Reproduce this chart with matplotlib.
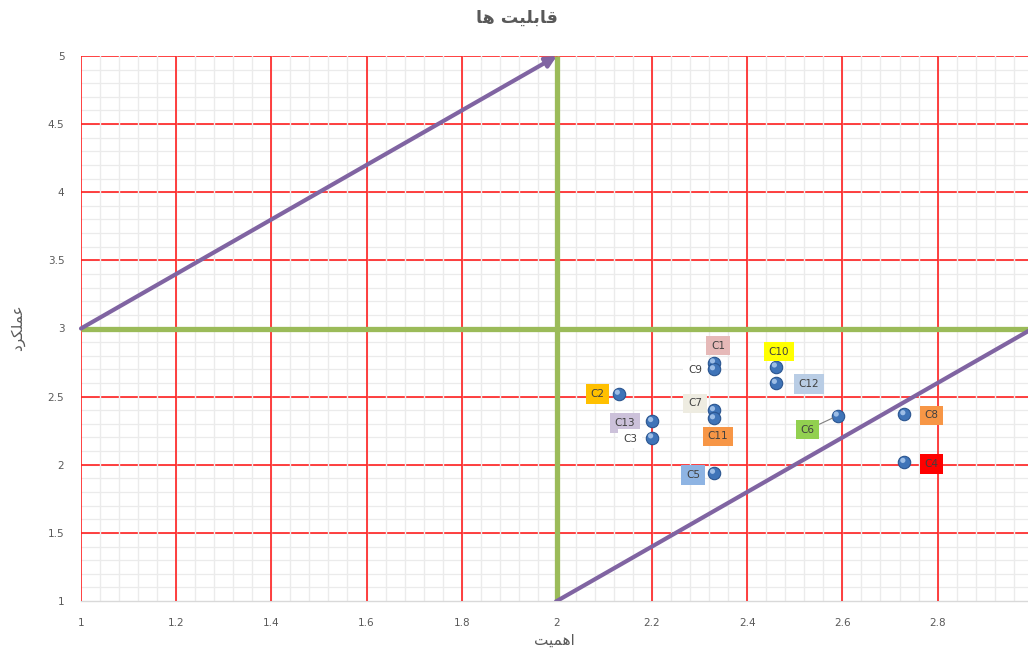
import matplotlib
matplotlib.use("Agg")
import matplotlib.pyplot as plt
import numpy as np

# Persian text written in joined presentation forms, visual (left-to-right) order
title_text = "\uFE8E\uFEEB \uFE96\uFBFF\uFEE0\uFE91\uFE8E\uFED7"   # قابلیت ها
ylabel_text = "\uFEA9\uFEAE\uFB91\uFEE0\uFEE4\uFECB"              # عملکرد
xlabel_text = "\uFE96\uFBFF\uFEE4\uFEEB\uFE8D"                    # اهمیت

labels = ["C1", "C9", "C10", "C12", "C2", "C7", "C11", "C13", "C3", "C5", "C6", "C8", "C4"]
importance = [2.33, 2.33, 2.46, 2.46, 2.13, 2.33, 2.33, 2.20, 2.20, 2.33, 2.59, 2.73, 2.73]
performance = [2.75, 2.70, 2.72, 2.60, 2.52, 2.40, 2.34, 2.32, 2.20, 1.94, 2.36, 2.37, 2.02]

x_ticks = [1, 1.2, 1.4, 1.6, 1.8, 2, 2.2, 2.4, 2.6, 2.8]
y_ticks = [1, 1.5, 2, 2.5, 3, 3.5, 4, 4.5, 5]

# label placement (pixel offsets from the point) and box colours
label_offsets = {
    "C1": (4, 17), "C9": (-19, -1), "C10": (3, 15), "C12": (33, -1),
    "C2": (-21, 0), "C7": (-19, 7), "C11": (4, -18), "C13": (-27, -2),
    "C3": (-22, -1), "C5": (-21, -2), "C6": (-30, -14), "C8": (27, -1),
    "C4": (27, -2),
}
label_colors = {
    "C1": "#E6B9B8", "C9": "white", "C10": "#FFFF00", "C12": "#B9CDE5",
    "C2": "#FFC000", "C7": "#EEECE1", "C11": "#F79646", "C13": "#CCC1DA",
    "C3": "white", "C5": "#8EB4E3", "C6": "#92D050", "C8": "#F79646",
    "C4": "#FF0000",
}

fig = plt.figure(figsize=(10.28, 6.52), dpi=100)
ax = fig.add_axes([81 / 1028, 51 / 652, 1 - 81 / 1028, 545 / 652])
x_max = 2.99
ax.set_xlim(1, x_max)
ax.set_ylim(1, 5)

ax.set_xticks(x_ticks)
ax.set_yticks(y_ticks)
ax.set_xticklabels([f"{v:g}" for v in x_ticks])
ax.set_yticklabels([f"{v:g}" for v in y_ticks])

# gridlines: light minor grid, red major grid; vertical minor lines sit over
# the horizontal major lines, vertical major lines on top of everything
red = "#FF2020"
minor_c = "#EBEBEB"
for y in np.arange(1.1, 5.0, 0.1):
    ax.axhline(y, color=minor_c, lw=0.9, zorder=0.5)
for y in y_ticks[1:]:
    ax.axhline(y, color=red, lw=1.2, zorder=1)
for x in np.arange(1.04, x_max, 0.04):
    ax.axvline(x, color=minor_c, lw=1.0, zorder=1.5)
for x in x_ticks:
    ax.axvline(x, color=red, lw=1.2, zorder=2)

for side in ["right", "top", "left"]:
    ax.spines[side].set_visible(False)
ax.spines["bottom"].set_color("#D9D9D9")
ax.spines["bottom"].set_linewidth(1.0)
ax.spines["bottom"].set_zorder(1.8)

ax.tick_params(which="both", length=0, labelsize=7.5, labelcolor="#595959")
ax.tick_params(axis="x", pad=12)
ax.tick_params(axis="y", pad=12)

# quadrant lines
ax.plot([2, 2], [1, 5], color="#9BBB59", lw=3.8, zorder=3, solid_capstyle="butt")
ax.plot([1, 3], [3, 3], color="#9BBB59", lw=3.8, zorder=3, solid_capstyle="butt")

# diagonal guides
ax.annotate("", xy=(2, 5), xytext=(1, 3),
            arrowprops=dict(arrowstyle="-|>", color="#8064A2", lw=3,
                            mutation_scale=16, shrinkA=0, shrinkB=0), zorder=4)
ax.plot([2, 3], [1, 3], color="#8064A2", lw=3, zorder=4)

# points with a small highlight for a rounded look
ax.scatter(importance, performance, s=80, color="#3F74B8", edgecolor="#2A5590",
           lw=0.8, zorder=6)
hl_x = [v - 0.003 for v in importance]
hl_y = [v + 0.012 for v in performance]
ax.scatter(hl_x, hl_y, s=14, color="#9CBDE6", edgecolor="none", zorder=7)

for name, x, y in zip(labels, importance, performance):
    dx, dy = label_offsets[name]
    arrow = None
    if name == "C6":
        arrow = dict(arrowstyle="-", color="#7F7F7F", lw=0.8, shrinkA=0, shrinkB=4)
    ax.annotate(name, xy=(x, y), xytext=(dx, dy), textcoords="offset pixels",
                ha="center", va="center", fontsize=7.5, color="#404040",
                bbox=dict(boxstyle="square,pad=0.45", fc=label_colors[name], ec="none"),
                arrowprops=arrow, zorder=8)

fig.text(0.503, 1 - 18 / 652, title_text, ha="center", va="center",
         fontsize=12.5, fontweight="bold", color="#595959", family="DejaVu Sans")
fig.text(554 / 1028, 1 - 640 / 652, xlabel_text, ha="center", va="center",
         fontsize=11, color="#595959", family="DejaVu Sans")
fig.text(18 / 1028, 1 - 328 / 652, ylabel_text, ha="center", va="center",
         rotation=90, fontsize=11, color="#595959", family="DejaVu Sans")

fig.savefig("out.png", dpi=100)
